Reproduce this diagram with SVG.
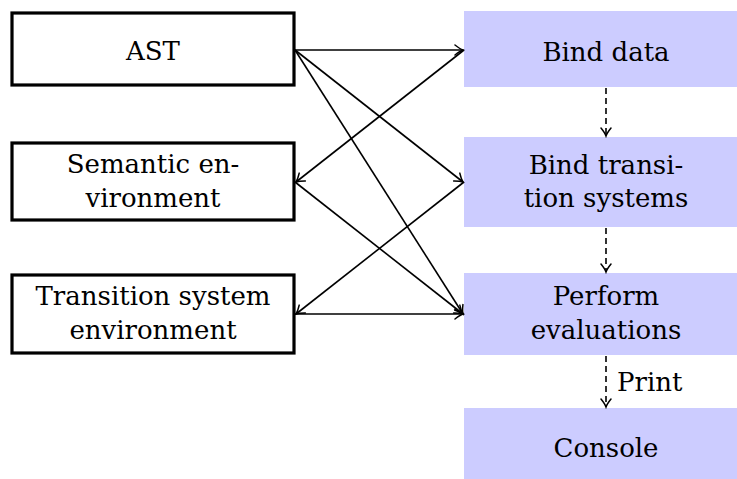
<svg xmlns="http://www.w3.org/2000/svg" width="737" height="479" viewBox="0 0 737 479">
<defs>
<marker id="arr" viewBox="-10 -6 12 12" markerWidth="12" markerHeight="12" refX="0" refY="0" orient="auto" markerUnits="userSpaceOnUse">
<path d="M-8,-5 Q-3,-1 0,0 Q-3,1 -8,5" fill="none" stroke="#000" stroke-width="1.5" stroke-linecap="round"/>
</marker>
</defs>
<style>
.box{fill:#fff;stroke:#000;stroke-width:3.2}
.blue{fill:#ccccff;stroke:none}
.t{font-family:"DejaVu Serif","Liberation Serif",serif;font-size:26px;fill:#000;text-anchor:middle}
.c{fill:none;stroke:#000;stroke-width:1.6;marker-end:url(#arr)}
.d{fill:none;stroke:#000;stroke-width:1.6;stroke-dasharray:6,4;marker-end:url(#arr)}
</style>
<rect width="737" height="479" fill="#fff"/>
<g id="ast"><rect class="box" x="12" y="13" width="282" height="72"/><text class="t" x="153" y="60">AST</text></g>
<g id="sem"><rect class="box" x="12" y="143" width="282" height="77"/><text class="t" x="153" y="173">Semantic en-</text><text class="t" x="153" y="207">vironment</text></g>
<g id="tse"><rect class="box" x="12" y="275" width="282" height="78"/><text class="t" x="153" y="305">Transition system</text><text class="t" x="153" y="339">environment</text></g>
<g id="bind"><rect class="blue" x="464" y="11" width="290" height="76"/><text class="t" x="606" y="61">Bind data</text></g>
<g id="bts"><rect class="blue" x="464" y="137" width="290" height="90"/><text class="t" x="606" y="174">Bind transi-</text><text class="t" x="606" y="207">tion systems</text></g>
<g id="perf"><rect class="blue" x="464" y="273" width="290" height="82"/><text class="t" x="606" y="305">Perform</text><text class="t" x="606" y="339">evaluations</text></g>
<g id="console"><rect class="blue" x="464" y="408" width="290" height="80"/><text class="t" x="606" y="457">Console</text></g>
<g id="connectors">
<path class="c" d="M295,50 L463,50"/>
<path class="c" d="M295,50 L463,182"/>
<path class="c" d="M295,50 L463,314"/>
<path class="c" d="M464,50 L296,182"/>
<path class="c" d="M295,182 L463,314"/>
<path class="c" d="M464,182 L296,314"/>
<path class="c" d="M295,314 L463,314"/>
<path class="d" d="M606,88 L606,136"/>
<path class="d" d="M606,228 L606,272"/>
<path class="d" d="M606,356 L606,407"/>
<text class="t" x="617" y="391" style="text-anchor:start">Print</text>
</g>
</svg>
